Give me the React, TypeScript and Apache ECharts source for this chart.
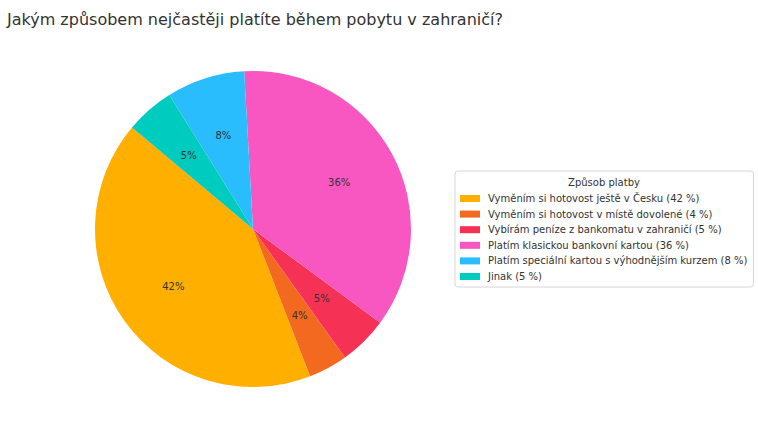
import React, { useEffect, useRef } from 'react';
import * as echarts from 'echarts';

const titleText = 'Jakým způsobem nejčastěji platíte během pobytu v zahraničí?';
const legendTitle = 'Způsob platby';
const categories = [
    'Vyměním si hotovost ještě v Česku',
    'Vyměním si hotovost v místě dovolené',
    'Vybírám peníze z bankomatu v zahraničí',
    'Platím klasickou bankovní kartou',
    'Platím speciální kartou s výhodnějším kurzem',
    'Jinak',
];
const values = [42, 4, 5, 36, 8, 5];
const colors = ['#FFAF00', '#F46920', '#F53255', '#F857C1', '#29BDFD', '#00CBBF'];

const FONT = 'DejaVu Sans';

export default function App() {
    const chartRef = useRef<HTMLDivElement>(null);

    useEffect(() => {
        const chart = echarts.init(chartRef.current!, undefined, { renderer: 'svg' });
        const data = categories.map((name, i) => ({ name, value: values[i] }));
        const valueOf: Record<string, number> = {};
        categories.forEach((c, i) => (valueOf[c] = values[i]));

        chart.setOption({
            animation: false,
            color: colors,
            title: {
                text: titleText,
                left: 2,
                top: 6,
                textStyle: {
                    fontFamily: FONT,
                    fontSize: 16,
                    fontWeight: 'normal',
                    color: '#333333',
                },
            },
            legend: {
                orient: 'vertical',
                left: 455,
                top: 171,
                data: categories,
                padding: [21, 6, 4, 5],
                itemWidth: 20,
                itemHeight: 7,
                itemGap: 2.6,
                icon: 'rect',
                borderColor: '#d6d6d6',
                borderWidth: 1,
                borderRadius: 3,
                backgroundColor: '#ffffff',
                selectedMode: false,
                formatter: (name: string) => `${name} (${valueOf[name]} %)`,
                textStyle: {
                    fontFamily: FONT,
                    fontSize: 10,
                    color: '#333333',
                    lineHeight: 13,
                    padding: [0, 0, 0, 3],
                },
            },
            graphic: [
                {
                    type: 'text',
                    x: 604,
                    y: 182,
                    z: 100,
                    style: {
                        text: legendTitle,
                        fontFamily: FONT,
                        fontSize: 10,
                        fill: '#333333',
                        textAlign: 'center',
                        textVerticalAlign: 'middle',
                    },
                },
            ],
            series: [
                {
                    type: 'pie',
                    center: [253, 229],
                    radius: 158,
                    startAngle: 140,
                    clockwise: false,
                    label: { show: false },
                    labelLine: { show: false },
                    emphasis: { disabled: true },
                    data,
                },
                {
                    // transparent overlay only to place the % labels at 0.6 of the radius
                    type: 'pie',
                    center: [253, 229],
                    radius: [32, 158],
                    startAngle: 140,
                    clockwise: false,
                    silent: true,
                    itemStyle: { color: 'transparent' },
                    label: {
                        show: true,
                        position: 'inside',
                        formatter: '{c}%',
                        fontFamily: FONT,
                        fontSize: 10,
                        color: '#333333',
                    },
                    labelLine: { show: false },
                    emphasis: { disabled: true },
                    data,
                },
            ],
        });

        return () => {
            chart.dispose();
        };
    }, []);

    return (
        <div
            ref={chartRef}
            style={{ position: 'fixed', left: 0, top: 0, width: 758, height: 421, background: '#fff' }}
        />
    );
}
